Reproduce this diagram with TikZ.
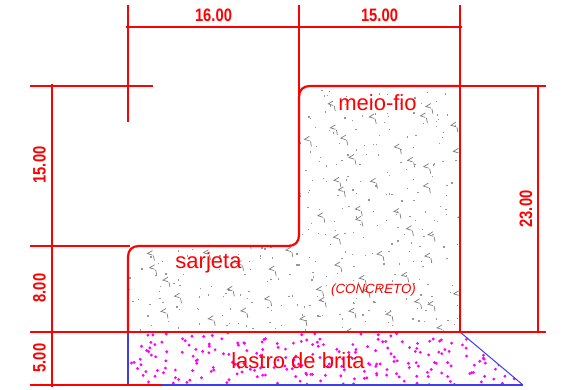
\documentclass[tikz,border=0pt]{standalone}
\usepackage{graphicx}
\usepackage{fontspec}
\setmainfont{Liberation Sans}
\definecolor{cadred}{RGB}{255,0,0}
\definecolor{cadblue}{RGB}{60,60,240}
\definecolor{cadmag}{RGB}{255,0,255}
\definecolor{cadgray}{RGB}{125,125,125}
\newcommand{\dimnum}[1]{\scalebox{.82}[1]{\bfseries #1}}
\tikzset{
  redline/.style={draw=cadred,line width=2.2pt},
  blueline/.style={draw=cadblue,line width=1.4pt},
  dimtext/.style={text=cadred,font=\fontsize{18}{18}\selectfont,inner sep=0pt},
  dimtextv/.style={dimtext,rotate=90},
  labeltext/.style={text=cadred,font=\fontsize{22}{22}\selectfont,inner sep=0pt},
}
\begin{document}
\begin{tikzpicture}[x=1pt,y=-1pt]
\useasboundingbox (0,0) rectangle (573,389);
% concrete texture
\begin{scope}
\clip (128,332) -- (128,257) .. controls (128,250) and (132,246) .. (139,246) -- (288,246)
  .. controls (295,246) and (299,242) .. (299,235) -- (299,97)
  .. controls (299,90) and (303,86) .. (310,86) -- (460,86) -- (460,332) -- cycle;
\pgfmathsetseed{4711}
\foreach \i in {1,...,480}{
  \pgfmathsetmacro{\px}{128+332*mod(\i*0.7548777,1)+24*rnd-12}
  \pgfmathsetmacro{\py}{86+246*mod(\i*0.5698403,1)+16*rnd-8}
  \fill[cadgray!80] (\px,\py) rectangle ++(1.3,1.3);
}
\foreach \i in {1,...,80}{
  \pgfmathsetmacro{\px}{128+332*mod(\i*0.7548777+.31,1)+20*rnd-10}
  \pgfmathsetmacro{\py}{86+246*mod(\i*0.5698403+.17,1)+14*rnd-7}
  \draw[cadgray,line width=.7pt] (\px+5,\py-3) -- (\px,\py) -- (\px+5,\py+1.5)
     (\px+6,\py+2) -- (\px+7,\py+7);
}
\end{scope}
% gravel texture
\begin{scope}
\clip (128,333) -- (460,333) -- (523,385) -- (128,385) -- cycle;
\pgfmathsetseed{1234}
\foreach \i in {1,...,250}{
  \pgfmathsetmacro{\px}{128+395*mod(\i*0.7548777,1)+26*rnd-13}
  \pgfmathsetmacro{\py}{333+52*mod(\i*0.5698403,1)+10*rnd-5}
  \fill[cadmag] (\px,\py) circle[radius=1.6pt];
}
\end{scope}
% blue outline of the gravel layer
\draw[blueline] (128,332) -- (128,385) -- (523,385);
\draw[cadblue,line width=1pt] (460,332) -- (523,385);
% section outline
\draw[redline] (128,332) -- (128,257) .. controls (128,250) and (132,246) .. (139,246) -- (288,246)
  .. controls (295,246) and (299,242) .. (299,235) -- (299,97)
  .. controls (299,90) and (303,86) .. (310,86) -- (460,86);
% extension and dimension lines
\draw[redline] (128,5) -- (128,122);
\draw[redline] (299,5) -- (299,97);
\draw[redline] (460,5) -- (460,332);
\draw[redline,line width=1.8pt] (126,27) -- (462,27);
\draw[redline] (30,86) -- (153,86);
\draw[redline] (460,86) -- (546,86);
\draw[redline] (30,246) -- (130,246);
\draw[redline] (30,332) -- (546,332);
\draw[redline] (30,385) -- (162,385);
\draw[redline,line width=1.8pt] (52,84) -- (52,387);
\draw[redline,line width=1.8pt] (538,86) -- (538,333);
% dimension texts
\node[dimtext] (d16) at (213.5,15) {\dimnum{16.00}};
\node[dimtext] (d15t) at (379.5,15) {\dimnum{15.00}};
\node[dimtextv] (d15l) at (39.5,165) {\dimnum{15.00}};
\node[dimtextv] (d8) at (39.5,288) {\dimnum{8.00}};
\node[dimtextv] (d5) at (39.5,358) {\dimnum{5.00}};
\node[dimtextv] (d23) at (526,209) {\dimnum{23.00}};
% labels
\node[labeltext] (mf) at (377.5,103) {meio-fio};
\node[labeltext] (sj) at (208.5,262.5) {sarjeta};
\node[labeltext] (lb) at (298,361) {lastro de brita};
\node[text=cadred,font=\fontsize{13.3}{13.3}\selectfont\itshape,inner sep=0pt] (cc) at (373.5,290) {(CONCRETO)};
\end{tikzpicture}
\end{document}
